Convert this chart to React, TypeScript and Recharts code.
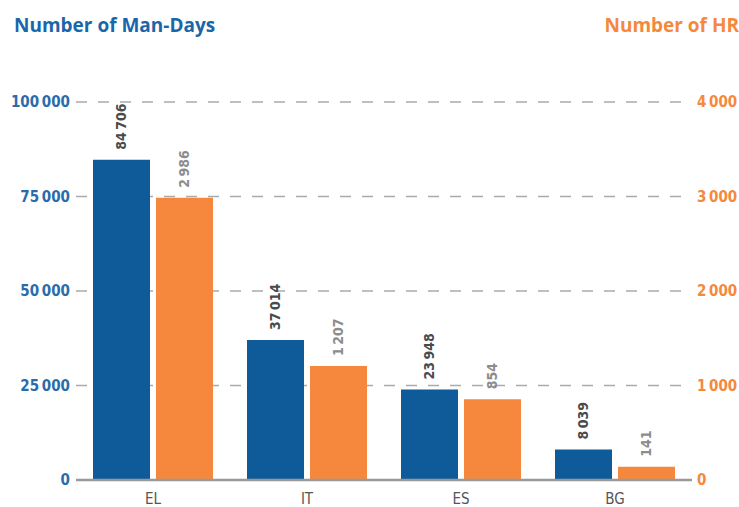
import React from "react";
import { BarChart, Bar, XAxis, YAxis, CartesianGrid, LabelList } from "recharts";

const categories = ["EL", "IT", "ES", "BG"];
const manDays = [84706, 37014, 23948, 8039];
const hr = [2986, 1207, 854, 141];
const leftTicks = [0, 25000, 50000, 75000, 100000];
const rightTicks = [0, 1000, 2000, 3000, 4000];

const data = categories.map((c, i) => ({ cat: c, manDays: manDays[i], hr: hr[i] }));

const BLUE = "#0f5b9a";
const ORANGE = "#f5883c";
const FONT = "'Liberation Sans Narrow', 'DejaVu Sans Condensed', sans-serif";

const fmt = (v: number) => String(v).replace(/\B(?=(\d{3})+(?!\d))/g, "\u2009");

const makeLabel = (color: string, weight: string | number) => (props: any) => {
  const { x, y, width, value } = props;
  const cx = x + width / 2;
  const ty = y - 10;
  return (
    <text
      x={cx}
      y={ty}
      transform={`rotate(-90 ${cx} ${ty})`}
      textAnchor="start"
      dominantBaseline="central"
      fill={color}
      fontSize={14}
      fontWeight={weight}
      fontFamily={FONT}
    >
      {fmt(value)}
    </text>
  );
};

export default function App() {
  return (
    <div style={{ position: "absolute", left: 0, top: 0, width: 739, height: 507, background: "#fff" }}>
      <div
        style={{
          position: "absolute",
          left: 14,
          top: 14,
          color: "#1a66aa",
          fontFamily: "'Open Sans', sans-serif",
          fontWeight: 700,
          fontSize: 19,
          lineHeight: "22px",
          whiteSpace: "nowrap",
        }}
      >
        Number of Man-Days
      </div>
      <div
        style={{
          position: "absolute",
          right: 0,
          top: 14,
          color: ORANGE,
          fontFamily: "'Open Sans', sans-serif",
          fontWeight: 700,
          fontSize: 19,
          lineHeight: "22px",
          whiteSpace: "nowrap",
        }}
      >
        Number of HR
      </div>
      <div style={{ position: "absolute", left: 0, top: 0 }}>
        <BarChart
          width={739}
          height={507}
          data={data}
          margin={{ top: 102, right: 0, bottom: 0, left: 0 }}
          barCategoryGap={17}
          barGap={6}
        >
          <CartesianGrid
            yAxisId="left"
            vertical={false}
            stroke="#aaaaaa"
            strokeWidth={1.5}
            strokeDasharray="11 11"
          />
          <XAxis
            dataKey="cat"
            height={27}
            axisLine={{ stroke: "#999999", strokeWidth: 2.5 }}
            tickLine={false}
            tick={{ fill: "#555555", fontSize: 15, fontFamily: FONT }}
            tickMargin={7}
          />
          <YAxis
            yAxisId="left"
            orientation="left"
            width={76}
            domain={[0, 100000]}
            ticks={leftTicks}
            axisLine={false}
            tickLine={false}
            tickSize={0}
            tickMargin={6}
            tickFormatter={fmt}
            tick={{ fill: "#2a6cab", fontSize: 15, fontFamily: FONT, fontWeight: 700 }}
          />
          <YAxis
            yAxisId="right"
            orientation="right"
            width={47}
            domain={[0, 4000]}
            ticks={rightTicks}
            axisLine={false}
            tickLine={false}
            tickSize={0}
            tickMargin={5}
            tickFormatter={fmt}
            tick={{ fill: ORANGE, fontSize: 15, fontFamily: FONT, fontWeight: 700 }}
          />
          <Bar yAxisId="left" dataKey="manDays" fill={BLUE} isAnimationActive={false}>
            <LabelList dataKey="manDays" content={makeLabel("#4a4a4a", 700)} />
          </Bar>
          <Bar yAxisId="right" dataKey="hr" fill={ORANGE} isAnimationActive={false}>
            <LabelList dataKey="hr" content={makeLabel("#8c8c8c", 700)} />
          </Bar>
        </BarChart>
      </div>
    </div>
  );
}
